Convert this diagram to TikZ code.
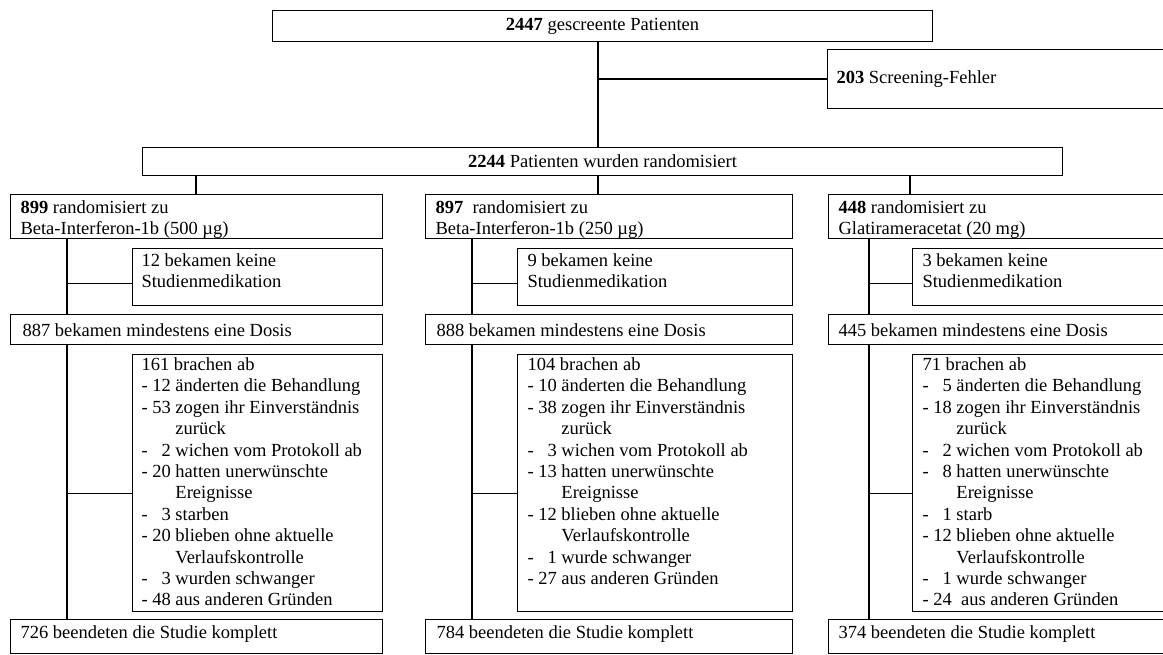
\documentclass[tikz,border=0pt]{standalone}
\usepackage{fontspec}
\setmainfont{Liberation Serif}

% box body: width, height, left padding, top padding, content (top aligned)
\newcommand{\boxbody}[5]{%
  \parbox[c][#2][t]{#1}{\vspace*{#4}\hspace*{#3}#5}}
% single lines / stacked lines inside a box
\newcommand{\lines}[1]{\begin{tabular}[t]{@{}l@{}}#1\end{tabular}}
% list of drop-out reasons: dash, right-aligned count, text
\newenvironment{reasons}{\begin{tabular}[t]{@{}l@{\ }r@{\ }l@{}}}{\end{tabular}}
\newcommand{\head}[1]{\multicolumn{3}{@{}l@{}}{#1}}

\begin{document}
\begin{tikzpicture}[x=1pt,y=-1pt,
  font=\fontsize{18.5}{21.4}\selectfont,
  box/.style={draw=black,line width=1.1pt,inner sep=0pt,anchor=north west},
  link/.style={draw=black,line width=1.1pt}]
\useasboundingbox (0,0) rectangle (1163,655);
\clip (0,0) rectangle (1163,655);

% screening and randomisation
\node[box,minimum width=660pt,minimum height=31pt] (top) at (272,10)
  {\textbf{2447} gescreente Patienten};
\node[box] (screen) at (827,49)
  {\parbox[c][59pt][c]{339pt}{\hspace*{9pt}\textbf{203} Screening-Fehler}};
\node[box,minimum width=920pt,minimum height=28pt] (rand) at (142,147)
  {\textbf{2244} Patienten wurden randomisiert};

\coordinate (trunk) at (598,79);
\draw[link] (top.south -| trunk) -- (rand.north -| trunk);
\draw[link] (trunk) -- (screen.west |- trunk);

% column 1
\node[box] (r1) at (10,194) {\boxbody{372pt}{44pt}{10pt}{4pt}{\lines{\textbf{899} randomisiert zu\\Beta-Interferon-1b (500 µg)}}};
\node[box] (n1) at (132,248) {\boxbody{250pt}{57pt}{9pt}{3pt}{\lines{12 bekamen keine\\Studienmedikation}}};
\node[box] (d1) at (10,314) {\boxbody{372pt}{30pt}{12pt}{6.5pt}{\lines{887 bekamen mindestens eine Dosis}}};
\node[box] (x1) at (132,354) {\boxbody{250pt}{257pt}{9pt}{1pt}{%
  \begin{reasons}
  \head{161 brachen ab}\\
  - & 12 & änderten die Behandlung\\
  - & 53 & zogen ihr Einverständnis\\
    &    & zurück\\
  - & 2  & wichen vom Protokoll ab\\
  - & 20 & hatten unerwünschte\\
    &    & Ereignisse\\
  - & 3  & starben\\
  - & 20 & blieben ohne aktuelle\\
    &    & Verlaufskontrolle\\
  - & 3  & wurden schwanger\\
  - & 48 & aus anderen Gründen
  \end{reasons}}};
\node[box] (f1) at (10,619) {\boxbody{372pt}{34pt}{10pt}{4pt}{\lines{726 beendeten die Studie komplett}}};

% column 2
\node[box] (r2) at (425,194) {\boxbody{367pt}{44pt}{10pt}{4pt}{\lines{\textbf{897}\ \ randomisiert zu\\Beta-Interferon-1b (250 µg)}}};
\node[box] (n2) at (517,248) {\boxbody{275pt}{57pt}{10pt}{3pt}{\lines{9 bekamen keine\\Studienmedikation}}};
\node[box] (d2) at (425,314) {\boxbody{367pt}{30pt}{11pt}{6.5pt}{\lines{888 bekamen mindestens eine Dosis}}};
\node[box] (x2) at (517,354) {\boxbody{275pt}{257pt}{10pt}{1pt}{%
  \begin{reasons}
  \head{104 brachen ab}\\
  - & 10 & änderten die Behandlung\\
  - & 38 & zogen ihr Einverständnis\\
    &    & zurück\\
  - & 3  & wichen vom Protokoll ab\\
  - & 13 & hatten unerwünschte\\
    &    & Ereignisse\\
  - & 12 & blieben ohne aktuelle\\
    &    & Verlaufskontrolle\\
  - & 1  & wurde schwanger\\
  - & 27 & aus anderen Gründen
  \end{reasons}}};
\node[box] (f2) at (425,619) {\boxbody{367pt}{34pt}{11pt}{4pt}{\lines{784 beendeten die Studie komplett}}};

% column 3
\node[box] (r3) at (828,194) {\boxbody{338pt}{44pt}{10pt}{4pt}{\lines{\textbf{448} randomisiert zu\\Glatirameracetat (20 mg)}}};
\node[box] (n3) at (912,248) {\boxbody{254pt}{57pt}{10pt}{3pt}{\lines{3 bekamen keine\\Studienmedikation}}};
\node[box] (d3) at (828,314) {\boxbody{338pt}{30pt}{10pt}{6.5pt}{\lines{445 bekamen mindestens eine Dosis}}};
\node[box] (x3) at (912,354) {\boxbody{254pt}{257pt}{10pt}{1pt}{%
  \begin{reasons}
  \head{71 brachen ab}\\
  - & 5  & änderten die Behandlung\\
  - & 18 & zogen ihr Einverständnis\\
    &    & zurück\\
  - & 2  & wichen vom Protokoll ab\\
  - & 8  & hatten unerwünschte\\
    &    & Ereignisse\\
  - & 1  & starb\\
  - & 12 & blieben ohne aktuelle\\
    &    & Verlaufskontrolle\\
  - & 1  & wurde schwanger\\
  - & 24 & \ aus anderen Gründen
  \end{reasons}}};
\node[box] (f3) at (828,619) {\boxbody{338pt}{34pt}{10pt}{4pt}{\lines{374 beendeten die Studie komplett}}};

% drops from the randomisation box to the arms
\coordinate (a1) at (196,0);
\coordinate (a2) at (598,0);
\coordinate (a3) at (910,0);
\draw[link] (rand.south -| a1) -- (r1.north -| a1);
\draw[link] (rand.south -| a2) -- (r2.north -| a2);
\draw[link] (rand.south -| a3) -- (r3.north -| a3);

% stems of each arm with side branches
\coordinate (s1) at (67,0);
\coordinate (s2) at (472,0);
\coordinate (s3) at (869,0);
\foreach \i in {1,2,3}{
  \draw[link] (r\i.south -| s\i) -- (d\i.north -| s\i);
  \draw[link] ([yshift=-6.5pt]n\i.west -| s\i) -- ([yshift=-6.5pt]n\i.west);
  \draw[link] (d\i.south -| s\i) -- (f\i.north -| s\i);
  \draw[link] ([yshift=-10.5pt]x\i.west -| s\i) -- ([yshift=-10.5pt]x\i.west);
}
\end{tikzpicture}
\end{document}
